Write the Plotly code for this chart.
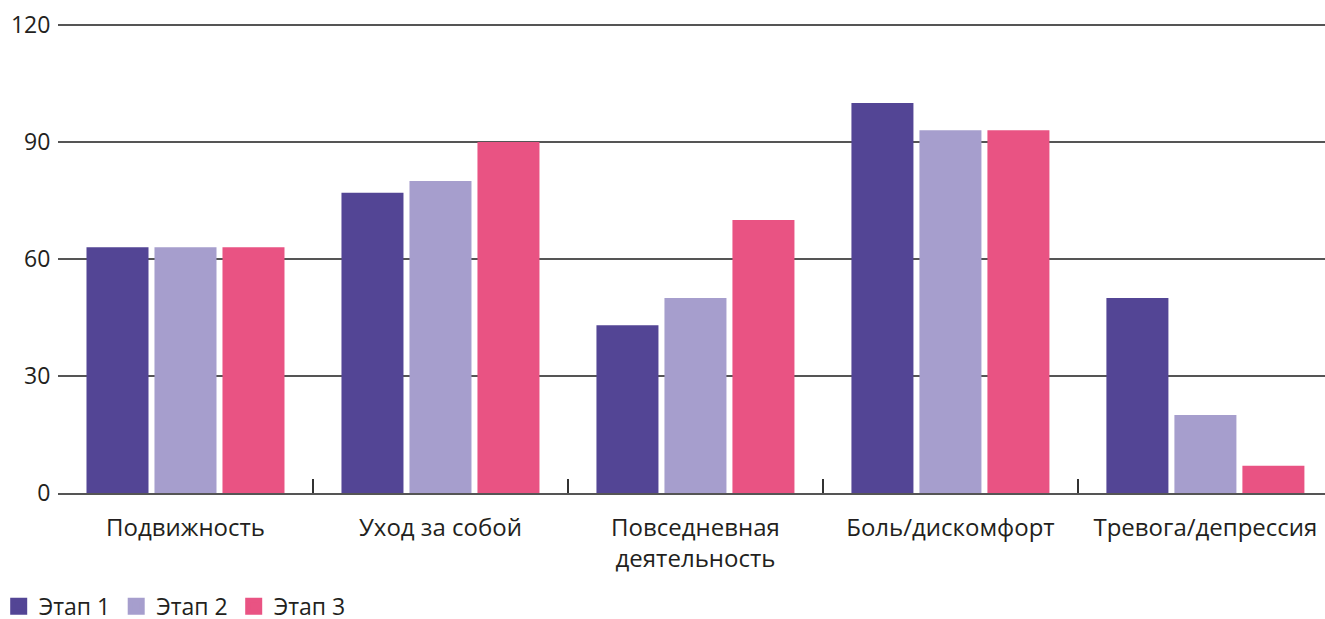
import plotly.graph_objects as go

categories = ["Подвижность", "Уход за собой", "Повседневная<br>деятельность",
              "Боль/дискомфорт", "Тревога/депрессия"]
stage1 = [63, 77, 43, 100, 50]
stage2 = [63, 80, 50, 93, 20]
stage3 = [63, 90, 70, 93, 7]
series_names = ["Этап 1", "Этап 2", "Этап 3"]
colors = ["#534595", "#a69ecd", "#e95383"]
y_ticks = [0, 30, 60, 90, 120]

FONT = "Open Sans"
TXT = "#231f20"

fig = go.Figure()
for name, vals, c in zip(series_names, [stage1, stage2, stage3], colors):
    fig.add_trace(go.Bar(
        x=categories, y=vals, name=name, showlegend=False,
        marker=dict(color=c, line=dict(width=0)),
    ))
# legend entries (larger swatch via outline), drawn on a hidden axis pair
for name, c in zip(series_names, colors):
    fig.add_trace(go.Bar(
        x=[None], y=[None], name=name, showlegend=True,
        xaxis="x2", yaxis="y2",
        marker=dict(color=c, line=dict(color=c, width=5)),
    ))

fig.update_layout(
    width=1325, height=619,
    margin=dict(l=58, r=0, t=22, b=126, autoexpand=False),
    paper_bgcolor="white", plot_bgcolor="white",
    barmode="group", bargap=0.2, bargroupgap=0.088,
    font=dict(family=FONT, size=24, color=TXT),
    legend=dict(orientation="h", x=-0.0468, xanchor="left", y=-0.2406, yanchor="middle",
                font=dict(size=23, color=TXT), traceorder="normal",
                entrywidth=72.5, itemwidth=30),
    xaxis2=dict(visible=False, overlaying="x", showgrid=False),
    yaxis2=dict(visible=False, overlaying="y", showgrid=False),
)
fig.layout.xaxis.update(
    range=[-0.5, 4.469],
    showline=True, linecolor="#555555", linewidth=2,
    ticks="inside", tickson="boundaries", ticklen=14, tickcolor="#333333", tickwidth=1.5,
    showgrid=False, tickfont=dict(size=24, color=TXT), ticklabelstandoff=12,
)
fig.layout.yaxis.update(
    range=[0, 120.77], tickvals=y_ticks,
    showgrid=True, gridcolor="#555555", gridwidth=1.5,
    zeroline=False, showline=False,
    ticks="outside", ticklen=2, tickcolor="rgba(0,0,0,0)",
    tickfont=dict(size=23, color=TXT),
)

fig.write_html("out.html")
